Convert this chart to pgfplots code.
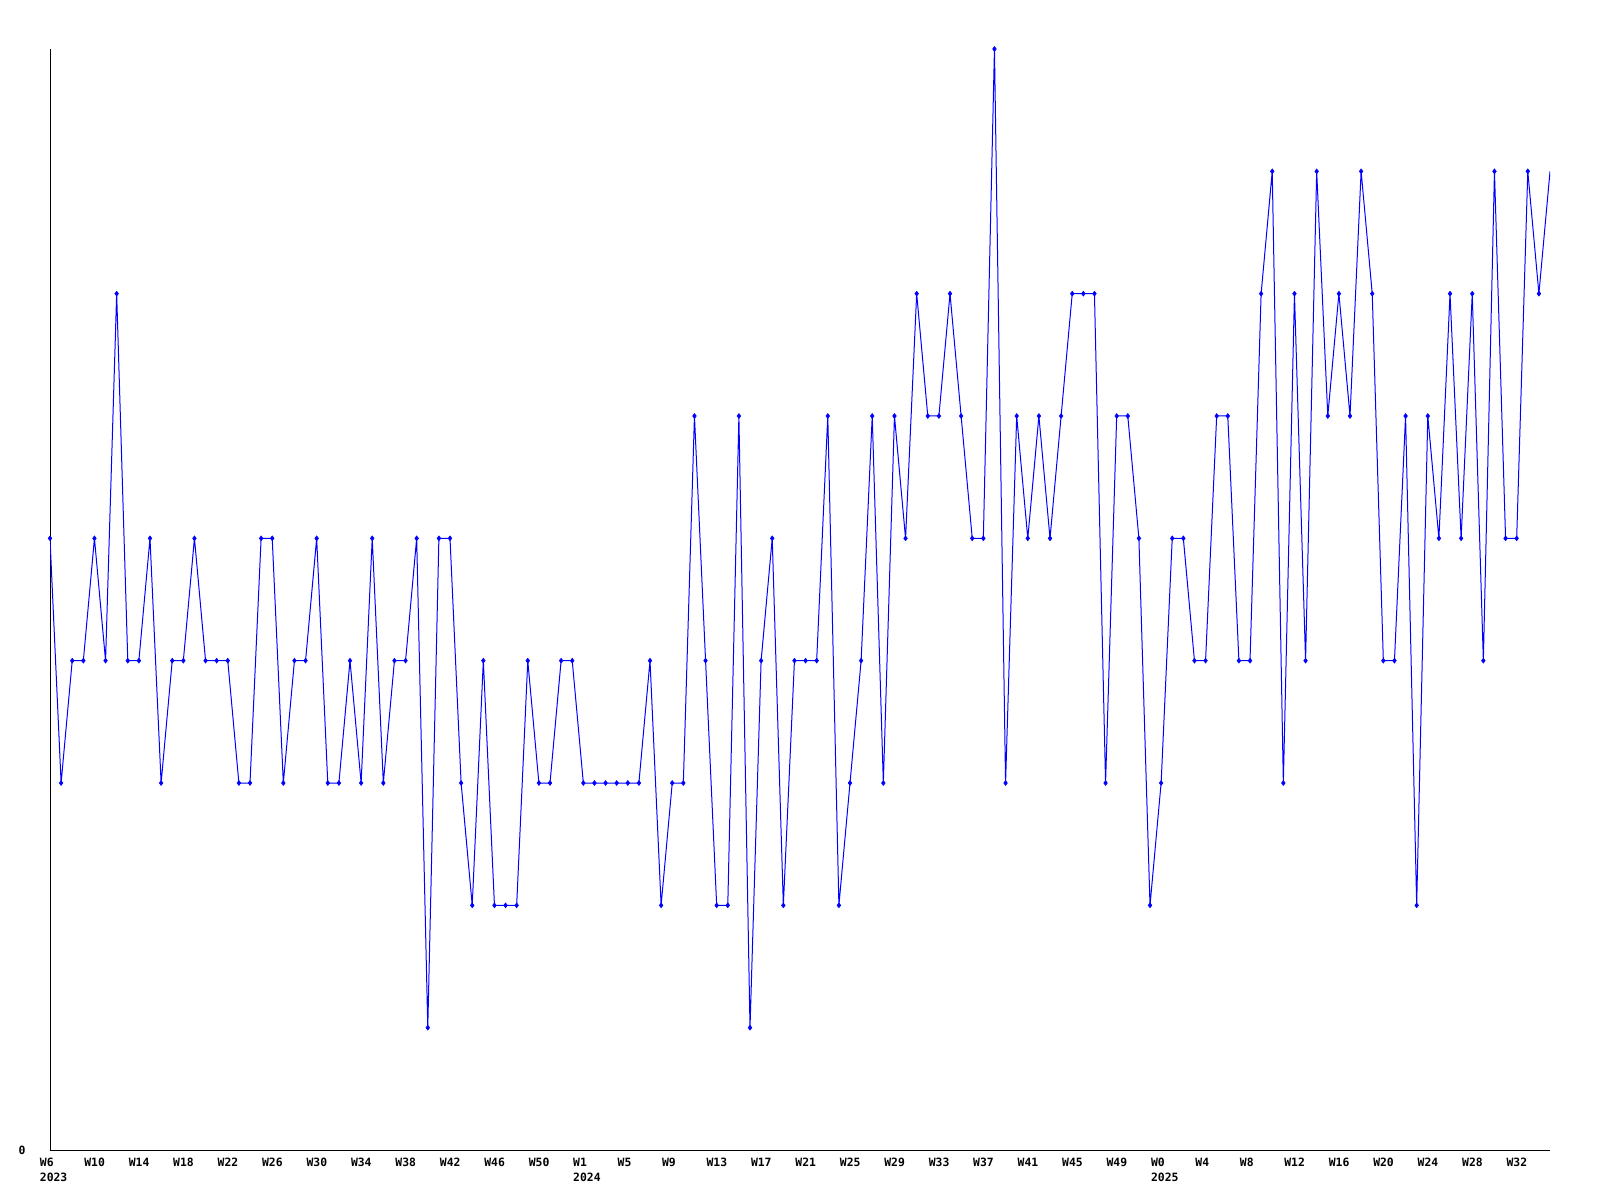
\documentclass[border=0pt]{standalone}
\usepackage{fontspec}
\setmonofont{DejaVu Sans Mono}
\usepackage{pgfplots}
\usepackage{pgfplotstable}
\pgfplotsset{compat=1.18}
\pgfplotstableread{
v
5
3
4
4
5
4
7
4
4
5
3
4
4
5
4
4
4
3
3
5
5
3
4
4
5
3
3
4
3
5
3
4
4
5
1
5
5
3
2
4
2
2
2
4
3
3
4
4
3
3
3
3
3
3
4
2
3
3
6
4
2
2
6
1
4
5
2
4
4
4
6
2
3
4
6
3
6
5
7
6
6
7
6
5
5
9
3
6
5
6
5
6
7
7
7
3
6
6
5
2
3
5
5
4
4
6
6
4
4
7
8
3
7
4
8
6
7
6
8
7
4
4
6
2
6
5
7
5
7
4
8
5
5
8
7
8
}\data
\begin{document}
\begin{tikzpicture}
\path[use as bounding box] (-25pt,-25pt) rectangle (775pt,575pt);
\begin{axis}[
  scale only axis,
  width=750pt, height=550.5pt,
  anchor=south west, at={(0pt,0pt)},
  xmin=0, xmax=135, ymin=0, ymax=9,
  axis x line*=bottom, axis y line*=left,
  axis line style={black, line width=0.5pt},
  major tick length=0pt,
  tick style={draw=none},
  xtick={0,4,...,132},
  xticklabels={{W6\\2023},W10,W14,W18,W22,W26,W30,W34,W38,W42,W46,W50,
    {W1\\2024},W5,W9,W13,W17,W21,W25,W29,W33,W37,W41,W45,W49,
    {W0\\2025},W4,W8,W12,W16,W20,W24,W28,W32},
  xticklabel style={anchor=north west, inner sep=0pt, align=left,
    xshift=-5.25pt, yshift=-4pt,
    font=\ttfamily\bfseries\fontsize{5.7}{7.5}\selectfont},
  ytick={0}, yticklabels={0},
  yticklabel style={anchor=east, inner sep=0pt, xshift=-12pt,
    font=\ttfamily\bfseries\fontsize{5.7}{7.5}\selectfont},
]
\addplot[color={rgb,255:red,0;green,0;blue,255}, line width=0.5pt,
  mark=diamond*, mark size=1.2pt, mark indices={1,...,135},
  mark options={fill={rgb,255:red,0;green,0;blue,255}, draw={rgb,255:red,0;green,0;blue,255}, line width=0.3pt}]
  table[x expr=\coordindex, y=v] {\data};
\end{axis}
\end{tikzpicture}
\end{document}
